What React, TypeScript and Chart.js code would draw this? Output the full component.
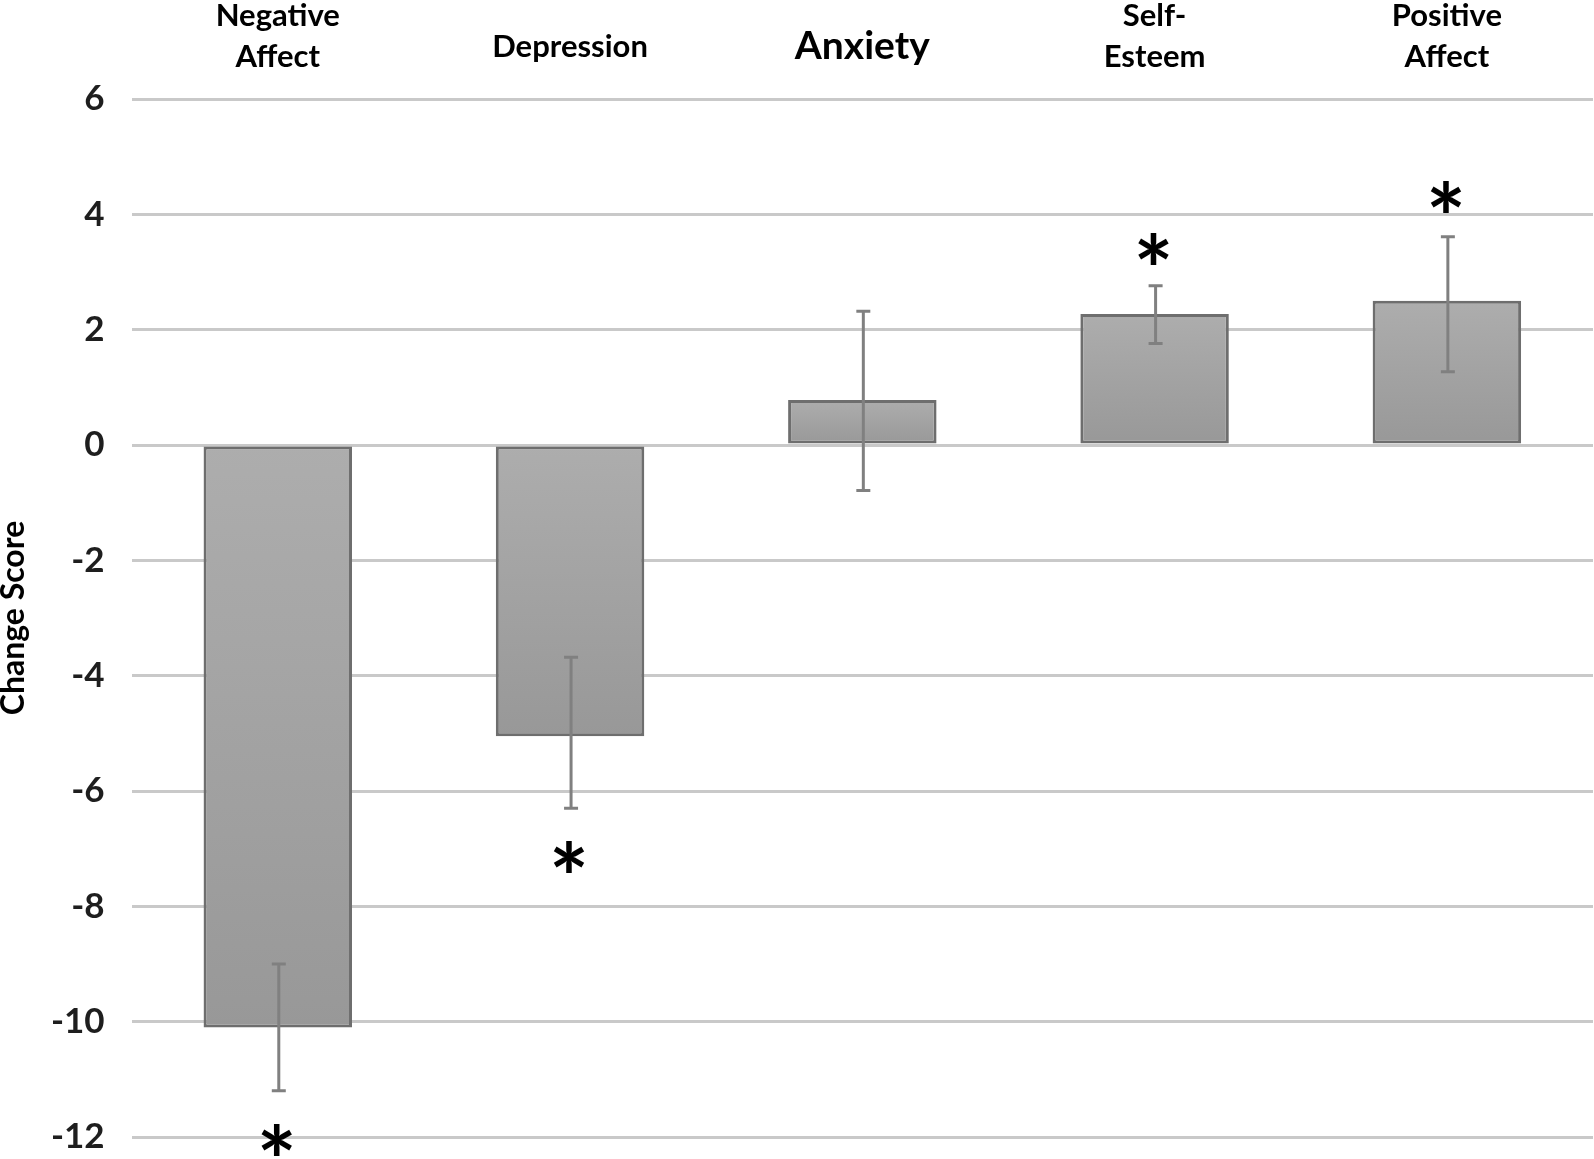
import React, { useEffect, useRef } from 'react';
import { Chart, registerables } from 'chart.js';

Chart.register(...registerables);

const categories: string[][] = [['Negative', 'Affect'], ['Depression'], ['Anxiety'], ['Self-', 'Esteem'], ['Positive', 'Affect']];
const changeScores = [-10.1, -5.05, 0.78, 2.27, 2.5];
const errorUpper = [-9.0, -3.68, 2.32, 2.76, 3.61];
const errorLower = [-11.2, -6.3, -0.79, 1.76, 1.27];
const significanceMarkY: (number | null)[] = [-12.05, -7.15, null, 3.4, 4.3];
const yMin = -12;
const yMax = 6;
const yStep = 2;

const FONT = 'Lato, "Open Sans", sans-serif';

const errorBarPlugin = {
  id: 'errorBars',
  afterDatasetsDraw(chart: any) {
    const ctx = chart.ctx;
    const yScale = chart.scales.y;
    const meta = chart.getDatasetMeta(0);
    ctx.save();
    ctx.strokeStyle = '#808080';
    ctx.lineWidth = 3;
    meta.data.forEach((bar: any, i: number) => {
      const x = bar.x + 1;
      const yt = yScale.getPixelForValue(errorUpper[i]);
      const yb = yScale.getPixelForValue(errorLower[i]);
      const cap = 7;
      ctx.beginPath();
      ctx.moveTo(x, yt);
      ctx.lineTo(x, yb);
      ctx.moveTo(x - cap, yt);
      ctx.lineTo(x + cap, yt);
      ctx.moveTo(x - cap, yb);
      ctx.lineTo(x + cap, yb);
      ctx.stroke();
    });
    ctx.fillStyle = '#000';
    ctx.font = `bold 94px ${FONT}`;
    ctx.textAlign = 'center';
    ctx.textBaseline = 'alphabetic';
    meta.data.forEach((bar: any, i: number) => {
      const v = significanceMarkY[i];
      if (v === null) return;
      const y = yScale.getPixelForValue(v);
      const m = ctx.measureText('*');
      const asc = m.actualBoundingBoxAscent;
      const desc = m.actualBoundingBoxDescent;
      const base = y + (asc - desc) / 2;
      ctx.fillText('*', bar.x - 1, base);
    });
    ctx.restore();
  },
};

export default function App() {
  const canvasRef = useRef<HTMLCanvasElement | null>(null);

  useEffect(() => {
    document.body.style.margin = '0';
    document.body.style.overflow = 'hidden';
    const canvas = canvasRef.current;
    if (!canvas) return;
    const chart = new Chart(canvas, {
      type: 'bar',
      data: {
        labels: categories as any,
        datasets: [
          {
            data: changeScores,
            backgroundColor: (c: any) => {
              const ch = c.chart;
              const ys = ch.scales?.y;
              if (!ys || c.dataIndex === undefined) return '#a3a3a3';
              const v = changeScores[c.dataIndex];
              const p0 = ys.getPixelForValue(0);
              const p1 = ys.getPixelForValue(v);
              if (!isFinite(p0) || !isFinite(p1)) return '#a3a3a3';
              const top = Math.min(p0, p1);
              const bot = Math.max(p0, p1);
              if (bot - top < 1) return '#a3a3a3';
              const g = ch.ctx.createLinearGradient(0, top, 0, bot);
              g.addColorStop(0, '#adadad');
              g.addColorStop(1, '#989898');
              return g;
            },
            borderColor: '#6e6e6e',
            borderWidth: 3,
            borderSkipped: false,
            barPercentage: 0.508,
            categoryPercentage: 1,
          },
        ],
      },
      options: {
        animation: false,
        responsive: true,
        maintainAspectRatio: false,
        layout: { padding: { top: -27, right: 1, bottom: 22, left: 0 } },
        plugins: {
          legend: { display: false },
          tooltip: { enabled: false },
        },
        scales: {
          x: {
            position: 'top',
            grid: { display: false, drawTicks: false },
            border: { display: false },
            ticks: {
              color: '#000',
              padding: 22,
              maxRotation: 0,
              autoSkip: false,
              font: (c: any) => {
                const i = c.index;
                if (i === 2) return { family: FONT, weight: 'bold', size: 39, lineHeight: 62 / 39 };
                if (i === 1) return { family: FONT, weight: 'bold', size: 31, lineHeight: 60 / 31 };
                return { family: FONT, weight: 'bold', size: 31, lineHeight: 41 / 31 };
              },
            },
          },
          y: {
            min: yMin,
            max: yMax,
            grid: {
              color: '#c9c9c9',
              lineWidth: 3,
              drawTicks: true,
              tickLength: 27,
              tickColor: 'rgba(0,0,0,0)',
            },
            border: { display: false },
            ticks: {
              stepSize: yStep,
              color: '#1e1e1e',
              padding: 0,
              font: { family: FONT, weight: 'bold', size: 35 },
            },
            title: {
              display: true,
              text: 'Change Score',
              color: '#000',
              font: { family: FONT, weight: 'bold', size: 32, lineHeight: 0.875 },
              padding: { top: 0, bottom: 23 },
            },
          },
        },
      },
      plugins: [errorBarPlugin],
    });
    return () => chart.destroy();
  }, []);

  return (
    <div style={{ width: 1594, height: 1159, position: 'relative', overflow: 'hidden', background: '#fff' }}>
      <canvas ref={canvasRef} style={{ display: 'block' }} />
    </div>
  );
}
